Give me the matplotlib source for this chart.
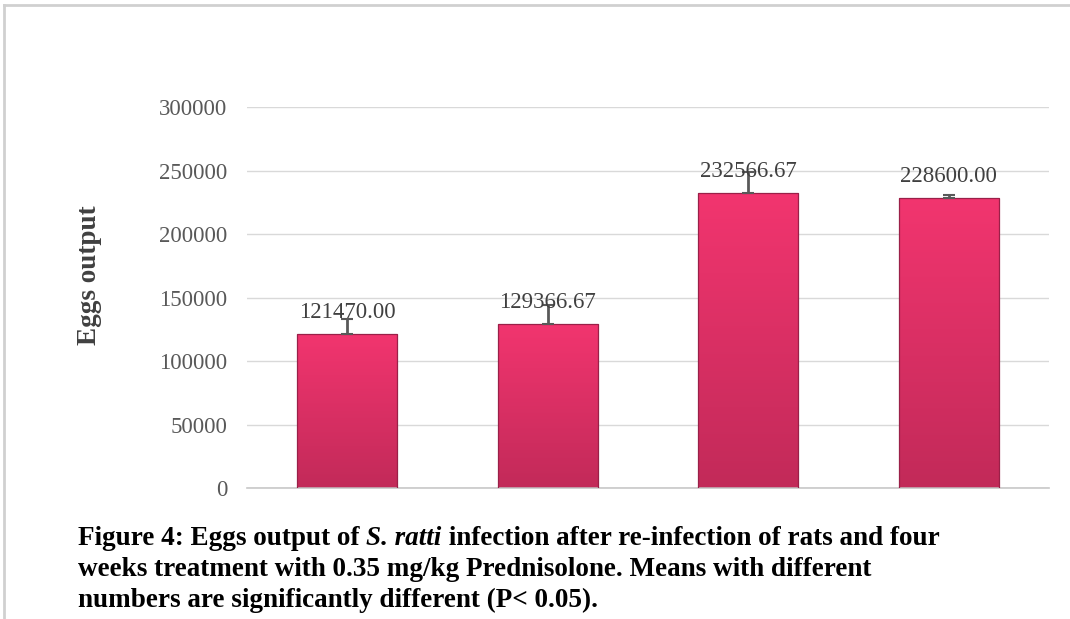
import matplotlib.pyplot as plt
import numpy as np
from matplotlib.colors import LinearSegmentedColormap
from matplotlib.lines import Line2D

# Данные: выход яиц S. ratti по группам
groups = ['G1', 'G2', 'G3', 'G4']
means = [121470.00, 129366.67, 232566.67, 228600.00]
errors = [12000, 15000, 16000, 2200]
yticks = [0, 50000, 100000, 150000, 200000, 250000, 300000]

plt.rcParams['font.family'] = ['Liberation Serif', 'DejaVu Serif']

fig = plt.figure(figsize=(10.7, 6.19), dpi=100)
ax = fig.add_axes([0.2308, 0.2116, 0.7495, 0.6155])

x = np.arange(len(groups))
bars = ax.bar(x, means, width=0.5, color='#E8316A', linewidth=0, zorder=2)

# градиент внутри столбцов
cmap = LinearSegmentedColormap.from_list('pink', ['#C22A59', '#F2356F'])
grad = np.linspace(0, 1, 256).reshape(-1, 1)
for b in bars:
    x0, w, h = b.get_x(), b.get_width(), b.get_height()
    im = ax.imshow(grad, cmap=cmap, origin='lower', aspect='auto',
                   extent=(x0, x0 + w, 0, h), zorder=2.5)
    im.set_clip_path(b)

# контур столбцов поверх градиента
ax.bar(x, means, width=0.5, facecolor='none', edgecolor='#9A2048',
       linewidth=0.9, zorder=2.8)

ax.errorbar(x, means, yerr=[np.zeros(len(errors)), errors], fmt='none',
            ecolor='#595959', elinewidth=2, capsize=4, capthick=1.5, zorder=3)

for xi, m in zip(x, means):
    ax.annotate(f'{m:.2f}', (xi, m), xytext=(0, 15), textcoords='offset points',
                ha='center', va='center', fontsize=16.5, color='#404040', zorder=4)

ax.set_xlim(-0.5, 3.5)
ax.set_ylim(0, 300000)
ax.set_yticks(yticks)
ax.set_yticklabels([str(t) for t in yticks], fontsize=16.5, color='#595959')
ax.set_xticks([])
ax.tick_params(axis='y', length=0, pad=14)
ax.grid(axis='y', color='#D9D9D9', linewidth=1, zorder=0)
ax.set_axisbelow(True)
for s in ['top', 'right', 'left']:
    ax.spines[s].set_visible(False)
ax.spines['bottom'].set_color('#C8C8C8')
ax.spines['bottom'].set_linewidth(1.2)

fig.text(0.084, 0.555, 'Eggs output', rotation=90, ha='center', va='center',
         fontsize=19.5, fontweight='bold', color='#404040')

# подпись рисунка
cap_fs = 19.5
t1 = fig.text(0.073, 0.1195, 'Figure 4: Eggs output of ', fontsize=cap_fs,
              fontweight='bold', va='baseline')
t2 = ax.annotate('S. ratti', xy=(1, 0), xycoords=t1, fontsize=cap_fs,
                 fontweight='bold', fontstyle='italic', va='bottom',
                 annotation_clip=False)
ax.annotate(' infection after re-infection of rats and four', xy=(1, 0),
            xycoords=t2, fontsize=cap_fs, fontweight='bold', va='bottom',
            annotation_clip=False)
fig.text(0.073, 0.0695, 'weeks treatment with 0.35 mg/kg Prednisolone. Means with different',
         fontsize=cap_fs, fontweight='bold', va='baseline')
fig.text(0.073, 0.0195, 'numbers are significantly different (P< 0.05).',
         fontsize=cap_fs, fontweight='bold', va='baseline')

# рамка слева и сверху
fig.add_artist(Line2D([0.004, 1.0], [0.992, 0.992], color='#D0D0D0', lw=2))
fig.add_artist(Line2D([0.004, 0.004], [0.0, 0.992], color='#D0D0D0', lw=2))

fig.savefig('out.png', dpi=100)
